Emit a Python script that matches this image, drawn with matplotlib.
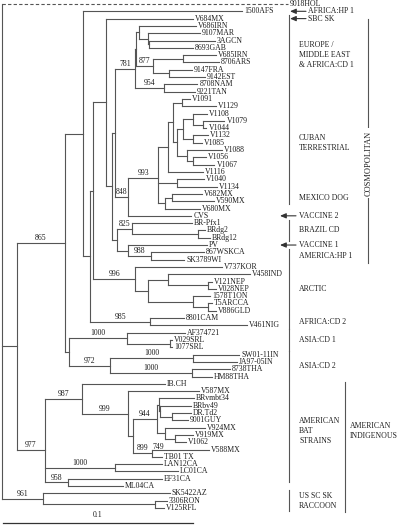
import matplotlib
matplotlib.use('Agg')
import matplotlib.pyplot as plt
from matplotlib.transforms import blended_transform_factory
import numpy as np

plt.rcParams['font.family'] = ['Liberation Serif', 'DejaVu Serif']

# 系统发育树各分支 (Newick 片段, 枝长 = 每位点替换数, 内部节点名 = bootstrap)
EUROPE = ("(((V686IRN:0.0300,(9107MAR:0.0274,(3AGCN:0.0347,8693GAB:0.0232):0.0005):0.0047):0.0016,"
          "((V685IRN:0.0174,8706ARS:0.0189):0.0158,(9147FRA:0.0121,9142EST:0.0189):0.0084)877:0.0089):0.0005,"
          "(8708NAM:0.0174,9221TAN:0.0163)954:0.0153)781:0.0105")
CUBAN = ("(((V1091:0.0042,V1129:0.0179):0.0047,"
         "(((V1108:0.0074,(V1079:0.0111,V1044:0.0016):0.0053):0.0053,(V1132:0.0079,V1085:0.0047):0.0053):0.0032,"
         "(V1088:0.0184,(V1056:0.0068,V1067:0.0111):0.0032):0.0053):0.0021):0.0026,"
         "V1116:0.0184):0.0053,(V1040:0.0142,V1134:0.0211):0.0100")
MEXICO = "((V682MX:0.0158,V590MX:0.0221):0.0037,V680MX:0.0184):0.0037"
BRAZIL = "(BR-Pfx1:0.0316,(BRdg2:0.0037,BRdg12:0.0063):0.0347)825:0.0079"
HP1 = "(PV:0.0416,(867WSKCA:0.0279,SK3789WI:0.0174)988:0.0121):0.0058"
ARCTIC = ("(V737KOR:0.0458,((V458IND:0.0432,(V121NEP:0.0021,V028NEP:0.0042):0.0211):0.0105,"
          "(1578T1ON:0.0089,(T5ARCCA:0.0021,V886GLD:0.0042):0.0079):0.0237):0.0068)996:0.0221")
AFRICA2 = "(8801CAM:0.0179,V461NIG:0.0511)985:0.0316"
ASIA = ("((AF374721:0.0305,(V029SRL:0.0011,1077SRL:0.0011):0.0226)1000:0.0305,"
        "((SW01-11IN:0.0242,JA97-05IN:0.0232)1000:0.0437,(8738THA:0.0200,HM88THA:0.0105)1000:0.0432)972:0.0216):0.0021")
BAT = ("((IB.CH:0.0437,(V587MX:0.0374,(((BRvmbt34:0.0184,(BRbv49:0.0163,(DR.Td2:0.0100,9001GUY:0.0084):0.0063):0.0005):0.0011,"
       "(V924MX:0.0211,(V919MX:0.0095,V1062:0.0058)749:0.0053):0.0042)944:0.0126,"
       "(V588MX:0.0300,TB01 TX:0.0053)899:0.0100):0.0026)999:0.0242)987:0.0195,"
       "(LAN12CA:0.0247,LC01CA:0.0332)1000:0.0368,"
       "(EF31CA:0.0495,ML04CA:0.0289)958:0.0121)977:0.0147")
RACCOON = "(SK5422AZ:0.0668,(3306RON:0.0063,V125RFL:0.0047):0.0589)961:0.0216"

DASHED_LEAVES = ['9018HOL']
BELOW_SUPPORT = ['749']

# 右侧分组 (标签, 第一个叶, 最后一个叶)
GROUPS = [
    ('EUROPE /\nMIDDLE EAST\n& AFRICA:CD 1', 'V684MX', '9221TAN'),
    ('CUBAN\nTERRESTRIAL', 'V1091', 'V1134'),
    ('MEXICO DOG', 'V682MX', 'V590MX'),
    ('BRAZIL CD', 'BR-Pfx1', 'BRdg12'),
    ('AMERICA:HP 1', '867WSKCA', 'SK3789WI'),
    ('ARCTIC', 'V737KOR', 'V886GLD'),
    ('AFRICA:CD 2', '8801CAM', 'V461NIG'),
    ('ASIA:CD 1', 'AF374721', '1077SRL'),
    ('ASIA:CD 2', 'SW01-11IN', 'HM88THA'),
    ('AMERICAN\nBAT\nSTRAINS', 'IB.CH', 'EF31CA'),
    ('US SC SK\nRACCOON', 'SK5422AZ', 'V125RFL'),
]
TOP_ARROWS = [('AFRICA:HP 1', '1500AFS'), ('SBC SK', 'V684MX')]
VACCINE_ARROWS = [('VACCINE 2', 'CVS'), ('VACCINE 1', 'PV')]
OUTER = ('AMERICAN\nINDIGENOUS', 'IB.CH', 'V125RFL')
COSMO = ('COSMOPOLITAN', 'V684MX', 'SK3789WI')
SCALE_LEN = 0.1

# 组合成完整的树
cosmo_core = (f"((V684MX:0.0458,(({EUROPE},(({CUBAN},{MEXICO})993:0.0158,CVS:0.0332)848:0.0068):0.0016,"
              f"({BRAZIL},{HP1}):0.0026):0.0032):0.0068,{ARCTIC}):0.0016")
TREE = (f"(9018HOL:0.1505,(((1500AFS:0.0837,({cosmo_core},{AFRICA2}):0.0037):0.0095,{ASIA})865:0.0253,"
        f"{BAT}):0.0079,{RACCOON});")


def parse(s):
    pos = 0

    def node():
        nonlocal pos
        kids = []
        if s[pos] == '(':
            pos += 1
            while True:
                kids.append(node())
                if s[pos] == ',':
                    pos += 1
                    continue
                pos += 1
                break
        start = pos
        while s[pos] not in ',():;':
            pos += 1
        name = s[start:pos]
        length = 0.0
        if s[pos] == ':':
            pos += 1
            start = pos
            while s[pos] not in ',();':
                pos += 1
            length = float(s[start:pos])
        return {'name': name, 'len': length, 'kids': kids}

    return node()


leaves = []


def layout(n, x0):
    n['px'] = x0
    n['x'] = x0 + n['len']
    if not n['kids']:
        n['y'] = len(leaves)
        leaves.append(n)
    else:
        for k in n['kids']:
            layout(k, n['x'])
        n['y'] = np.mean([k['y'] for k in n['kids']])


root = parse(TREE)
layout(root, 0.0)
leaf_y = {n['name']: n['y'] for n in leaves}

# 画布: 400x525 像素, 根位于 x=2px, 0.1 = 190px
fig = plt.figure(figsize=(4, 5.25), dpi=100)
ax = fig.add_axes([0, 0, 1, 1])
ax.axis('off')
px = 1 / 1900
ax.set_xlim(-2 * px, 398 * px)
step = 7.304
ax.set_ylim((525 - 4) / step, -4 / step)

LC = '#555555'
TC = '#1e1e1e'
FS = 5.6
DASH = (0, (3, 2))


def draw(n):
    if not n['kids']:
        ax.text(n['x'] + 2 * px, n['y'], n['name'], fontsize=FS, color=TC,
                ha='left', va='center')
        return
    ys = [k['y'] for k in n['kids']]
    ax.plot([n['x'], n['x']], [min(ys), max(ys)], color=LC, lw=0.8)
    for k in n['kids']:
        ls = DASH if (not k['kids'] and k['name'] in DASHED_LEAVES) else '-'
        ax.plot([n['x'], k['x']], [k['y'], k['y']], color=LC, lw=0.8, ls=ls)
        draw(k)
    if n['name']:
        if n['name'] in BELOW_SUPPORT:
            ax.text(n['px'] - 1 * px, n['y'] + 1.1, n['name'], fontsize=FS,
                    color=TC, ha='right', va='center')
        else:
            ax.text((n['px'] + n['x']) / 2, n['y'] - 0.12, n['name'],
                    fontsize=FS, color=TC, ha='center', va='bottom')


draw(root)

tr = blended_transform_factory(ax.transAxes, ax.transData)

# 分组括线
for label, first, last in GROUPS:
    y0, y1 = leaf_y[first] - 0.45, leaf_y[last] + 0.45
    ax.plot([289 / 400, 289 / 400], [y0, y1], color=LC, lw=0.8, transform=tr)
    ax.text(299 / 400, (y0 + y1) / 2, label, fontsize=FS, color=TC,
            ha='left', va='center', linespacing=1.35, transform=tr)

arrow_kw = dict(arrowstyle='-|>,head_length=0.35,head_width=0.15',
                color='#333333', lw=0.8, shrinkA=0, shrinkB=0)
for label, leaf in TOP_ARROWS:
    y = leaf_y[leaf]
    ax.annotate('', xy=(290 / 400, y), xytext=(306 / 400, y),
                xycoords=tr, textcoords=tr, arrowprops=arrow_kw)
    ax.text(308 / 400, y, label, fontsize=FS, color=TC, ha='left', va='center',
            transform=tr)

for label, leaf in VACCINE_ARROWS:
    y = leaf_y[leaf]
    ax.annotate('', xy=(280 / 400, y), xytext=(296 / 400, y),
                xycoords=tr, textcoords=tr, arrowprops=arrow_kw)
    ax.text(299 / 400, y, label, fontsize=FS, color=TC, ha='left', va='center',
            transform=tr)

# 外层分组
label, first, last = OUTER
y0, y1 = leaf_y[first] - 0.3, leaf_y[last] + 0.6
ax.plot([345 / 400, 345 / 400], [y0, y1], color=LC, lw=0.8, transform=tr)
bat_mid = (leaf_y['IB.CH'] + leaf_y['EF31CA']) / 2
ax.text(350 / 400, bat_mid, label, fontsize=FS, color=TC, ha='left',
        va='center', linespacing=1.35, transform=tr)

label, first, last = COSMO
y0, y1 = leaf_y[first], leaf_y[last] + 0.5
ax.plot([368 / 400, 368 / 400], [y0, y1], color=LC, lw=0.8, transform=tr)
ax.text(369 / 400, y0 + (y1 - y0) * 0.59, label, fontsize=6, color=TC,
        rotation=90, ha='center', va='center', transform=tr,
        bbox=dict(facecolor='white', edgecolor='none', pad=1.5))

# 比例尺
trs = blended_transform_factory(ax.transData, ax.transAxes)
ax.plot([0.5 * px, 0.5 * px + SCALE_LEN], [2 / 525, 2 / 525], color='#333333',
        lw=0.9, transform=trs)
ax.text(0.5 * px + SCALE_LEN / 2, 6 / 525, f'{SCALE_LEN:g}', fontsize=FS,
        color=TC, ha='center', va='bottom', transform=trs)

fig.savefig('out.png', dpi=100)
